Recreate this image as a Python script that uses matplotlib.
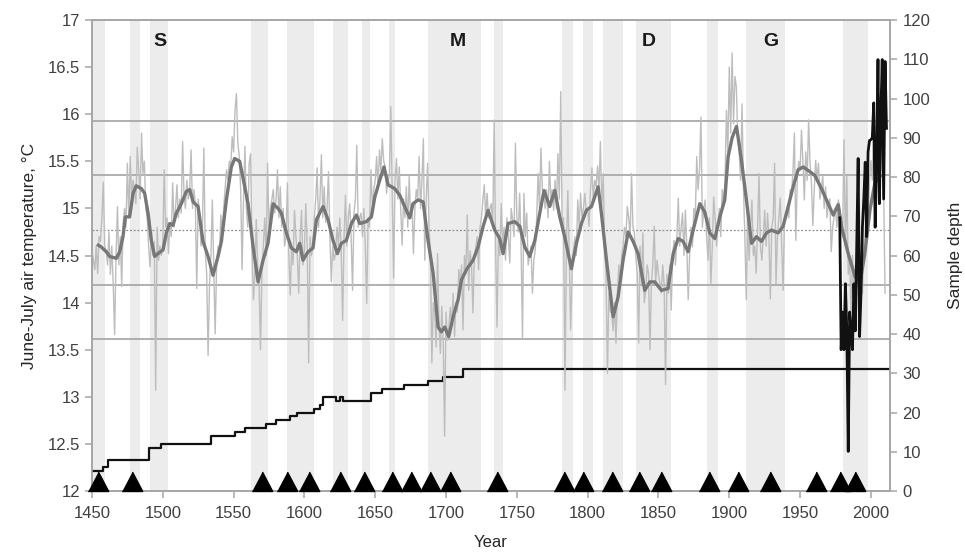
import matplotlib
matplotlib.use("Agg")
import matplotlib.pyplot as plt
from matplotlib.markers import MarkerStyle

plt.rcParams['font.family'] = ['Liberation Sans', 'DejaVu Sans']

# ---- data -------------------------------------------------------------
annual_start = 1450
annual_temp = [
    14.55, 14.45, 14.35, 14.6, 14.31, 14.7, 14.65, 14.9, 15.28, 14.6,   # 1450s
    14.55, 14.4, 14.75, 14.3, 14.6, 14.2, 13.66, 14.5, 15.02, 14.4,     # 1460s
    14.7, 14.17, 14.85, 15.0, 14.8, 15.48, 14.9, 15.55, 15.1, 15.3,     # 1470s
    15.2, 15.05, 15.65, 15.4, 15.1, 15.80, 15.37, 15.5, 15.0, 14.9,     # 1480s
    14.6, 14.38, 14.75, 14.5, 14.65, 13.07, 14.8, 14.45, 14.6, 14.5,    # 1490s
    14.6, 15.41, 14.8, 14.9, 14.52, 14.85, 14.7, 15.27, 14.8, 15.0,     # 1500s
    15.25, 14.9, 15.1, 14.95, 15.71, 15.15, 15.0, 15.30, 15.1, 15.2,    # 1510s
    15.62, 15.0, 15.2, 15.05, 14.15, 15.1, 14.95, 14.6, 14.8, 15.64,    # 1520s
    14.55, 14.3, 13.44, 14.2, 14.5, 15.09, 14.35, 13.67, 14.4, 14.6,    # 1530s
    14.5, 14.93, 14.7, 15.0, 15.2, 15.41, 15.3, 15.5, 15.45, 15.76,     # 1540s
    15.6, 16.04, 16.22, 15.7, 15.55, 15.2, 14.35, 15.1, 15.66, 15.0,    # 1550s
    14.8, 15.48, 15.58, 14.6, 14.03, 14.3, 14.88, 14.4, 14.2, 13.50,    # 1560s
    14.35, 14.6, 14.9, 14.5, 15.48, 14.8, 15.0, 15.09, 15.2, 14.95,     # 1570s
    15.1, 15.41, 14.9, 15.23, 14.8, 15.0, 14.6, 14.7, 15.27, 14.5,      # 1580s
    14.08, 14.6, 14.4, 14.98, 14.7, 14.5, 14.10, 14.7, 14.98, 14.4,     # 1590s
    14.55, 15.05, 14.6, 13.36, 14.7, 14.5, 14.59, 14.9, 15.1, 15.43,    # 1600s
    14.8, 15.1, 15.57, 14.9, 15.23, 14.85, 15.0, 15.39, 14.7, 14.22,    # 1610s
    14.6, 14.45, 14.52, 14.8, 14.6, 14.9, 14.55, 13.81, 14.7, 15.14,    # 1620s
    14.6, 14.9, 15.05, 14.7, 14.13, 14.95, 15.1, 15.67, 14.8, 14.9,     # 1630s
    14.95, 14.7, 15.0, 14.6, 13.99, 14.9, 14.8, 15.41, 15.0, 15.2,      # 1640s
    15.3, 15.55, 15.2, 15.62, 15.4, 15.74, 15.5, 15.45, 15.16, 15.3,    # 1650s
    15.35, 16.08, 15.2, 14.26, 15.3, 15.53, 15.1, 15.44, 15.0, 14.61,   # 1660s
    15.1, 14.9, 15.23, 14.8, 15.34, 14.9, 15.05, 14.52, 15.0, 15.2,     # 1670s
    15.1, 15.55, 15.0, 15.3, 15.74, 14.45, 15.1, 15.48, 14.8, 14.5,     # 1680s
    13.36, 14.0, 13.9, 13.53, 14.52, 13.8, 13.46, 13.96, 13.6, 12.58,   # 1690s
    13.9, 13.6, 13.74, 13.95, 13.75, 14.1, 13.64, 14.0, 13.9, 14.35,    # 1700s
    14.2, 14.4, 13.71, 14.5, 14.3, 14.93, 14.13, 14.55, 14.4, 13.89,    # 1710s
    14.5, 14.59, 14.7, 14.35, 14.8, 14.9, 15.09, 15.25, 14.9, 15.16,    # 1720s
    14.9, 15.0, 15.05, 14.8, 15.94, 14.6, 13.74, 14.7, 14.5, 15.05,     # 1730s
    14.6, 14.8, 14.45, 14.9, 14.7, 14.42, 15.0, 14.88, 14.7, 15.69,     # 1740s
    14.9, 14.75, 15.16, 14.6, 13.62, 15.16, 14.7, 14.95, 14.4, 14.5,    # 1750s
    14.6, 14.10, 14.45, 14.56, 14.9, 15.37, 15.0, 15.64, 15.2, 15.16,   # 1760s
    15.0, 15.2, 14.9, 15.50, 15.1, 15.2, 14.98, 15.3, 15.0, 15.58,      # 1770s
    15.1, 16.24, 14.8, 14.9, 13.07, 14.6, 15.19, 14.5, 13.71, 14.3,     # 1780s
    14.56, 14.7, 14.5, 15.09, 14.8, 15.16, 14.9, 15.0, 15.16, 14.95,    # 1790s
    15.0, 14.81, 15.2, 15.43, 15.1, 15.3, 15.23, 15.45, 15.2, 15.71,    # 1800s
    15.0, 15.37, 14.6, 14.3, 13.25, 14.1, 13.9, 13.89, 13.7, 14.0,      # 1810s
    13.57, 14.1, 14.4, 14.20, 14.5, 14.6, 14.8, 14.7, 15.02, 14.9,      # 1820s
    14.7, 15.37, 14.8, 14.74, 14.5, 14.3, 13.57, 14.6, 14.2, 14.74,     # 1830s
    14.0, 14.13, 14.4, 14.3, 13.50, 14.2, 14.4, 14.81, 14.2, 14.45,     # 1840s
    14.3, 14.2, 14.10, 14.4, 14.2, 13.13, 14.3, 14.10, 14.4, 13.92,     # 1850s
    14.5, 14.66, 14.4, 14.7, 15.11, 14.6, 14.8, 14.95, 14.5, 14.98,     # 1860s
    14.6, 14.03, 14.5, 14.8, 14.59, 15.0, 14.9, 15.55, 15.2, 15.41,     # 1870s
    15.97, 14.8, 15.0, 15.09, 14.7, 14.45, 14.9, 14.20, 14.6, 15.12,    # 1880s
    14.9, 14.6, 14.81, 15.0, 14.7, 15.2, 15.02, 15.3, 16.04, 15.6,      # 1890s
    16.50, 15.8, 16.65, 15.9, 16.40, 16.29, 15.76, 15.6, 15.3, 16.11,   # 1900s
    15.23, 14.7, 14.03, 14.9, 14.45, 14.8, 15.09, 14.5, 14.6, 14.31,    # 1910s
    14.8, 15.37, 14.6, 14.45, 14.7, 14.98, 14.6, 14.95, 14.7, 14.04,    # 1920s
    14.8, 14.9, 15.48, 14.20, 14.7, 14.9, 15.11, 14.6, 14.13, 14.9,     # 1930s
    14.95, 15.0, 14.9, 15.2, 15.16, 15.4, 15.80, 14.66, 15.3, 15.5,     # 1940s
    15.4, 15.83, 15.5, 15.09, 15.6, 15.3, 15.94, 15.5, 15.27, 14.82,    # 1950s
    15.2, 15.51, 15.3, 15.48, 15.1, 15.2, 15.35, 15.0, 15.23, 14.9,     # 1960s
    15.05, 15.1, 14.54, 14.8, 14.91, 15.0, 14.8, 15.09, 15.0, 14.88,    # 1970s
    14.7, 15.73, 14.6, 15.34, 14.3, 14.45, 13.9, 14.5, 14.10, 14.4,     # 1980s
    14.2, 14.17, 14.3, 14.42, 14.1, 14.6, 14.74, 15.0, 14.8, 15.3,      # 1990s
    15.51, 15.3, 15.87, 15.5, 15.7, 16.22, 15.6, 15.4, 15.94, 15.2,     # 2000s
    14.10,                                                              # 2010
]
annual_years = list(range(annual_start, annual_start + len(annual_temp)))

smooth_years = [
    1454.5, 1456.6, 1460.1, 1462.5, 1467.2, 1469.6, 1471.9, 1473.6, 1476.6, 1479.0,
    1481.3, 1484.9, 1487.2, 1489.6, 1491.9, 1494.3, 1496.6, 1500.2, 1502.5, 1504.9,
    1507.2, 1509.6, 1513.1, 1516.6, 1519.0, 1521.4, 1524.9, 1528.4, 1532.0, 1535.5,
    1539.0, 1541.4, 1544.9, 1548.4, 1550.8, 1554.3, 1556.7, 1560.2, 1563.7, 1567.3,
    1570.8, 1574.3, 1577.9, 1581.4, 1583.7, 1587.3, 1590.8, 1594.3, 1596.7, 1599.0,
    1602.6, 1606.1, 1608.5, 1613.2, 1616.7, 1620.2, 1623.3, 1626.1, 1629.6, 1633.2,
    1636.7, 1639.1, 1643.8, 1647.3, 1649.7, 1653.2, 1656.2, 1659.1, 1663.8, 1667.3,
    1670.8, 1674.4, 1676.7, 1680.3, 1683.8, 1687.3, 1690.9, 1694.4, 1696.7, 1699.1,
    1701.9, 1705.0, 1708.5, 1710.9, 1714.4, 1719.1, 1722.6, 1726.2, 1729.7, 1734.4,
    1737.9, 1740.3, 1743.8, 1748.5, 1752.1, 1755.6, 1759.1, 1762.7, 1766.2, 1769.2,
    1773.2, 1776.8, 1780.3, 1783.8, 1788.5, 1792.1, 1795.6, 1799.1, 1802.7, 1807.4,
    1809.7, 1813.3, 1818.0, 1821.5, 1825.0, 1828.6, 1832.1, 1835.6, 1840.3, 1843.9,
    1847.4, 1852.1, 1856.8, 1860.4, 1863.9, 1867.4, 1870.9, 1874.5, 1879.2, 1882.7,
    1886.2, 1889.8, 1893.3, 1896.8, 1899.2, 1902.0, 1905.1, 1908.6, 1912.1, 1915.7,
    1919.2, 1922.7, 1926.3, 1929.8, 1934.5, 1938.0, 1941.6, 1945.1, 1948.6, 1952.2,
    1956.9, 1960.4, 1965.1, 1969.8, 1973.4, 1976.9, 1979.2, 1984.0, 1988.7, 1992.2,
    1995.7, 1999.3, 2002.8, 2006.3,
]
smooth_temp = [
    14.61, 14.59, 14.54, 14.49, 14.47, 14.54, 14.70, 14.91, 14.91, 15.16,
    15.24, 15.21, 15.16, 14.95, 14.66, 14.49, 14.52, 14.56, 14.74, 14.84,
    14.82, 14.95, 15.05, 15.18, 15.20, 15.07, 15.02, 14.65, 14.49, 14.29,
    14.49, 14.65, 15.09, 15.44, 15.53, 15.50, 15.32, 15.05, 14.60, 14.22,
    14.45, 14.63, 15.05, 15.00, 14.95, 14.74, 14.58, 14.54, 14.63, 14.45,
    14.54, 14.58, 14.88, 15.02, 14.88, 14.66, 14.52, 14.63, 14.66, 14.84,
    14.93, 14.84, 14.86, 14.91, 15.12, 15.30, 15.44, 15.25, 15.21, 15.14,
    15.02, 14.90, 15.05, 15.09, 15.07, 14.66, 14.31, 13.74, 13.69, 13.74,
    13.64, 13.85, 14.03, 14.24, 14.35, 14.45, 14.59, 14.81, 14.98, 14.77,
    14.68, 14.52, 14.84, 14.86, 14.81, 14.59, 14.49, 14.66, 14.95, 15.19,
    15.02, 15.19, 14.91, 14.70, 14.36, 14.63, 14.84, 14.98, 15.02, 15.23,
    14.95, 14.45, 13.85, 14.06, 14.45, 14.75, 14.65, 14.52, 14.13, 14.22,
    14.22, 14.13, 14.15, 14.52, 14.68, 14.65, 14.54, 14.77, 15.05, 14.96,
    14.74, 14.68, 14.91, 15.09, 15.55, 15.75, 15.87, 15.51, 15.09, 14.63,
    14.70, 14.65, 14.74, 14.77, 14.74, 14.81, 15.02, 15.23, 15.41, 15.44,
    15.39, 15.35, 15.21, 15.05, 14.93, 15.04, 14.81, 14.52, 14.28, 14.20,
    14.52, 14.98, 15.27, 15.34,
]

# observed station temperature
obs_years = list(range(1978, 2012))
obs_temp = [
    14.9, 13.5, 13.9, 13.5, 14.2, 13.7, 12.42, 13.9, 13.7, 13.5,
    14.2, 13.7, 14.6, 15.53, 13.64, 14.1, 14.8, 15.1, 15.49, 14.7,
    15.6, 15.72, 15.73, 15.75, 16.12, 14.8, 15.5, 16.58, 15.05, 16.0,
    16.58, 15.1, 16.56, 15.85,
]

# number of series (right axis), value holds from each year onward
depth_years = [1450, 1458, 1461, 1490, 1499, 1534, 1551, 1558, 1573, 1580,
               1590, 1595, 1607, 1611, 1613, 1622, 1625, 1627, 1647, 1655,
               1670, 1687, 1698, 1712, 2014]
depth_vals = [5, 6, 8, 11, 12, 14, 15, 16, 17, 18,
              19, 20, 21, 22, 24, 23, 24, 23, 25, 26,
              27, 28, 29, 31, 31]

# shaded periods
band_starts = [1450, 1477, 1491, 1562, 1588, 1620, 1641, 1660, 1687, 1734,
               1782, 1797, 1811, 1834, 1884, 1912, 1980]
band_ends = [1459, 1484, 1504, 1574, 1607, 1631, 1646, 1664, 1725, 1740,
             1790, 1804, 1825, 1859, 1892, 1939, 1998]

# event markers along the time axis
event_years = [1454, 1478, 1570, 1588, 1603, 1625, 1642, 1662, 1675, 1689,
               1703, 1736, 1783, 1797, 1817, 1836, 1852, 1886, 1906, 1929,
               1961, 1978, 1989]

# mean and +/-1, +/-2 standard deviation levels
mean_level = 14.77
sd_levels = [13.61, 14.19, 15.35, 15.93]

period_labels = ['S', 'M', 'D', 'G']
period_label_years = [1498, 1708, 1843, 1929]

x_ticks = list(range(1450, 2001, 50))
left_ticks = [12, 12.5, 13, 13.5, 14, 14.5, 15, 15.5, 16, 16.5, 17]
left_tick_labels = ['12', '12.5', '13', '13.5', '14', '14.5', '15', '15.5', '16', '16.5', '17']
right_ticks = list(range(0, 121, 10))

# ---- figure -----------------------------------------------------------
fig = plt.figure(figsize=(9.65, 5.56), dpi=100)
ax = fig.add_axes([0.0953, 0.1169, 0.8270, 0.8471])
ax2 = ax.twinx()

ax.set_xlim(1450, 2013.5)
ax.set_ylim(12, 17)
ax2.set_ylim(0, 120)

spine_col = '#a6a6a6'
tick_col = '#404040'

# shaded periods sit on the lower (right-axis) layer, under every line
for s, e in zip(band_starts, band_ends):
    ax2.axvspan(s, e, color='#ececec', lw=0, zorder=0)

for lv in sd_levels:
    ax.axhline(lv, color='#a9a9a9', lw=1.3, zorder=1)
ax.axhline(mean_level, color='#8c8c8c', lw=0.9, ls=(0, (1.5, 1.5)), zorder=1)

ax.plot(annual_years, annual_temp, color='#bdbdbd', lw=1.0, zorder=2)
ax.plot(smooth_years, smooth_temp, color='#777777', lw=2.4, zorder=3,
        solid_joinstyle='round')
ax.plot(obs_years, obs_temp, color='#111111', lw=2.0, zorder=4)

ax2.step(depth_years, depth_vals, where='post', color='#111111', lw=1.6, zorder=4)

tri = MarkerStyle([(-1, 0), (1, 0), (0, 1.9)])
ax.plot(event_years, [12] * len(event_years), ls='none', marker=tri,
        markersize=28, color='black', clip_on=False, zorder=5)

for lab, yr in zip(period_labels, period_label_years):
    ax.text(yr, 16.77, lab, ha='center', va='center', fontsize=14,
            fontweight='bold', color='#1a1a1a', zorder=6)

ax.set_xticks(x_ticks)
ax.set_yticks(left_ticks)
ax.set_yticklabels(left_tick_labels)
ax2.set_yticks(right_ticks)

for a in (ax, ax2):
    for sp in a.spines.values():
        sp.set_color(spine_col)
        sp.set_linewidth(1.2)
    a.tick_params(axis='both', colors=spine_col, labelcolor=tick_col,
                  labelsize=12, length=5, width=1.1, direction='out')
ax2.tick_params(axis='y', pad=4)
ax.tick_params(axis='x', pad=6)

ax.set_xlabel('Year', fontsize=12, color='#262626', labelpad=10)
ax.set_ylabel('June-July air temperature, °C', fontsize=12.5, color='#262626',
              labelpad=8)
ax2.set_ylabel('Sample depth', fontsize=12.5, color='#262626', labelpad=13)

ax.set_zorder(ax2.get_zorder() + 1)
ax.patch.set_visible(False)

fig.savefig('out.png', dpi=100)
